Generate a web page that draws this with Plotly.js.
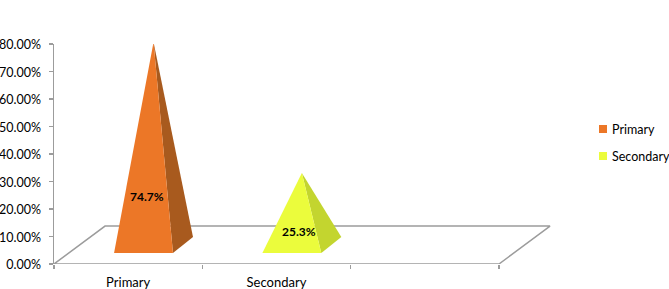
<!DOCTYPE html>
<html>
<head>
<meta charset="utf-8">
<script src="https://cdn.plot.ly/plotly-3.0.1.min.js"></script>
<style>html,body{margin:0;padding:0;background:#fff;overflow:hidden}</style>
</head>
<body>
<div id="chart" style="width:669px;height:289px"></div>
<script>
var categories = ["Primary", "Secondary"];
var values = [74.7, 25.3];
var frontColors = ["#EC7727", "#EBFC3C"];
var sideColors = ["#A85A1E", "#C3D52F"];
var yTicks = [0, 10, 20, 30, 40, 50, 60, 70, 80];

var axisColor = "#9C9C9C", inkColor = "#000000", fontName = "Lato, Carlito, sans-serif";
var slots = 3, floorDx = 0.344, floorDy = 13.8;
var baseLeft = 0.405, baseWidth = 0.397, baseY = 4, depthX = 0.135, depthY = 5.8;
var plotW = 506, plotH = 220, slotPx = 148.33;

var traces = [{
  type: "scatter", mode: "lines", cliponaxis: false, hoverinfo: "skip", showlegend: false,
  x: [0, floorDx, slots + floorDx, slots, 0], y: [0, floorDy, floorDy, 0, 0],
  line: {color: axisColor, width: 1.5}
}];
var annotations = [], shapes = [];

categories.forEach(function (name, i) {
  var l = i + baseLeft, r = l + baseWidth;
  var apexX = l + (baseWidth + depthX) / 2;
  var apexY = 8.7 + 0.964 * values[i];
  traces.push({
    type: "scatter", mode: "lines", fill: "toself", cliponaxis: false, hoverinfo: "skip", showlegend: false,
    x: [r, r + depthX, apexX, r], y: [baseY, baseY + depthY, apexY, baseY],
    fillcolor: sideColors[i], line: {width: 0}
  });
  traces.push({
    type: "scatter", mode: "lines", fill: "toself", cliponaxis: false, name: name, showlegend: false,
    x: [l, r, apexX, l], y: [baseY, baseY, apexY, baseY],
    fillcolor: frontColors[i], line: {width: 0}
  });
  annotations.push({
    xref: "x", yref: "y", x: i + 0.63 + 0.022 * i, y: 5.65 + 0.251 * values[i], showarrow: false,
    text: values[i].toFixed(1) + "%", font: {family: fontName, size: 12, color: "#000", weight: 700}
  });
  var ly = (135 - i * 27) / plotH;
  shapes.push({
    type: "rect", xref: "paper", yref: "paper", line: {width: 0}, fillcolor: frontColors[i],
    x0: 545 / plotW, x1: 553 / plotW, y0: ly - 4 / plotH, y1: ly + 4 / plotH, layer: "above"
  });
  annotations.push({
    xref: "paper", yref: "paper", xanchor: "left", xshift: -1, x: 557 / plotW, y: ly, showarrow: false,
    text: name, font: {family: fontName, size: 12.5, color: inkColor}
  });
});

var layout = {
  width: 669, height: 289,
  margin: {l: 54, r: 669 - 54 - plotW, t: 44, b: 25, pad: 0},
  paper_bgcolor: "#fff", plot_bgcolor: "#fff", showlegend: false,
  xaxis: {
    type: "linear", range: [0, plotW / slotPx], showgrid: false, zeroline: false, fixedrange: true,
    showline: false,
    tickmode: "array", tickvals: [0.5, 1.5, 2.5], ticktext: categories.concat([""]),
    ticks: "", ticklabelstandoff: 9,
    tickfont: {family: fontName, size: 13, color: inkColor},
    minor: {tick0: 0, dtick: 1, ticks: "outside", ticklen: 4, tickwidth: 1.5, tickcolor: axisColor, showgrid: false}
  },
  yaxis: {
    range: [0, 80], showgrid: false, zeroline: false, fixedrange: true,
    showline: true, linecolor: axisColor, linewidth: 1.5,
    tickmode: "array", tickvals: yTicks, ticktext: yTicks.map(function (t) { return t.toFixed(2) + "%"; }),
    ticks: "outside", ticklen: 4, tickwidth: 1.5, tickcolor: axisColor, ticklabelstandoff: 5, ticklabelshift: 1,
    tickfont: {family: fontName, size: 12.5, color: inkColor}
  },
  annotations: annotations, shapes: shapes
};
Plotly.newPlot("chart", traces, layout, {displayModeBar: false, staticPlot: true});
</script>
</body>
</html>
